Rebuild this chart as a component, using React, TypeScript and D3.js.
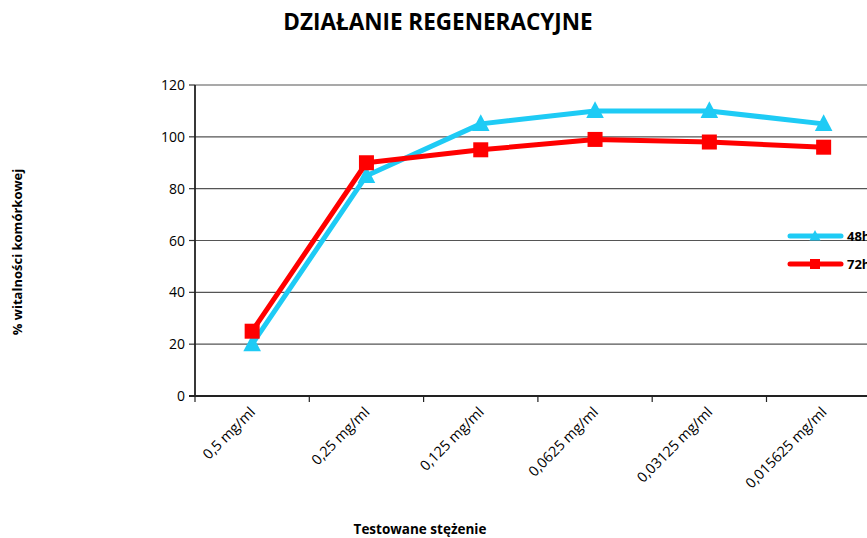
import React from "react";
import * as d3 from "d3";

const categories = ["0,5 mg/ml", "0,25 mg/ml", "0,125 mg/ml", "0,0625 mg/ml", "0,03125 mg/ml", "0,015625 mg/ml"];
const values48h = [20, 85, 105, 110, 110, 105];
const values72h = [25, 90, 95, 99, 98, 96];
const yTicks = [0, 20, 40, 60, 80, 100, 120];
const seriesNames = ["48h", "72h"];

const W = 867, H = 538;
const left = 195, top = 85, bottom = 396;
const bandW = 114.3;
const FONT = "'Open Sans', 'Noto Sans', sans-serif";

export default function App() {
  const x = d3.scaleBand<string>().domain(categories).range([left, left + bandW * categories.length]);
  const y = d3.scaleLinear().domain([0, 120]).range([bottom, top]);
  const line = d3.line<number>().x((_, i) => (x(categories[i]) as number) + x.bandwidth() / 2).y(d => y(d));
  const cyan = "#1ECBF5";
  const red = "#FF0000";
  const tri = (cx: number, cy: number, s: number) => `M${cx},${cy - s * 0.6}L${cx + s * 0.55},${cy + s * 0.45}L${cx - s * 0.55},${cy + s * 0.45}Z`;
  const cx = (i: number) => (x(categories[i]) as number) + x.bandwidth() / 2;
  return (
    <svg width={W} height={H} style={{ position: "absolute", left: 0, top: 0, background: "#fff" }}>
      <rect width={W} height={H} fill="#fff" />
      <text x={438} y={30} textAnchor="middle" fontFamily={FONT} fontWeight="bold" fontSize={22.5}>DZIAŁANIE REGENERACYJNE</text>
      {yTicks.map(t => (
        <g key={t}>
          {t > 0 && <line x1={left} x2={W} y1={y(t)} y2={y(t)} stroke="#555" strokeWidth={1.2} />}
          <line x1={left - 6} x2={left} y1={y(t)} y2={y(t)} stroke="#333" strokeWidth={1.2} />
          <text x={left - 10} y={y(t) + 5} textAnchor="end" fontFamily={FONT} fontSize={14}>{t}</text>
        </g>
      ))}
      <line x1={left} x2={left} y1={top} y2={bottom} stroke="#222" strokeWidth={1.8} />
      <line x1={left - 6} x2={W} y1={bottom} y2={bottom} stroke="#222" strokeWidth={1.8} />
      {categories.map((c, i) => (
        <g key={c}>
          <line x1={(x(c) as number)} x2={(x(c) as number)} y1={bottom} y2={bottom + 6} stroke="#222" strokeWidth={1.2} />
          <text transform={`translate(${cx(i) + 4},${bottom + 17}) rotate(-45)`} textAnchor="end" fontFamily={FONT} fontSize={14.3}>{c}</text>
        </g>
      ))}
      <path d={line(values48h) || ""} fill="none" stroke={cyan} strokeWidth={5} strokeLinejoin="round" />
      {values48h.map((v, i) => <path key={i} d={tri(cx(i), y(v), 16)} fill={cyan} />)}
      <path d={line(values72h) || ""} fill="none" stroke={red} strokeWidth={5} strokeLinejoin="round" />
      {values72h.map((v, i) => <rect key={i} x={cx(i) - 7.5} y={y(v) - 7.5} width={15} height={15} fill={red} />)}
      {seriesNames.map((s, i) => {
        const ly = 236 + i * 28;
        const c = i === 0 ? cyan : red;
        return (
          <g key={s}>
            <line x1={790} x2={841} y1={ly} y2={ly} stroke={c} strokeWidth={5} strokeLinecap="round" />
            {i === 0 ? <path d={tri(815, ly, 10)} fill={c} /> : <rect x={810} y={ly - 5} width={10} height={10} fill={c} />}
            <text x={847} y={ly + 5} fontFamily={FONT} fontWeight="bold" fontSize={13}>{s}</text>
          </g>
        );
      })}
      <text transform={`translate(22,252) rotate(-90)`} textAnchor="middle" fontFamily={FONT} fontWeight="bold" fontSize={13}>% witalności komórkowej</text>
      <text x={420} y={534} textAnchor="middle" fontFamily={FONT} fontWeight="bold" fontSize={13.5}>Testowane stężenie</text>
    </svg>
  );
}
